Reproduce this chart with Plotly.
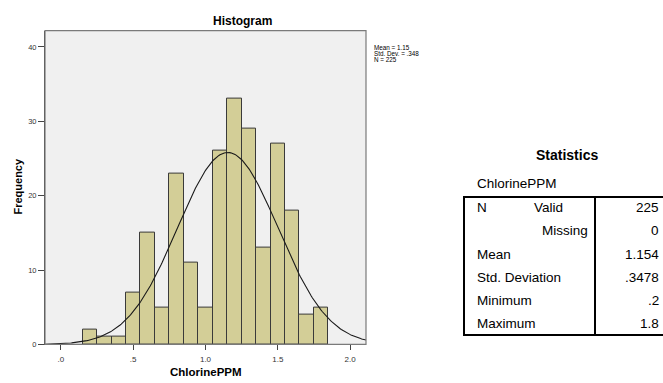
import numpy as np
import plotly.graph_objects as go

# ---- data ----
bin_centers = [0.2, 0.3, 0.4, 0.5, 0.6, 0.7, 0.8, 0.9, 1.0, 1.1, 1.2, 1.3, 1.4, 1.5, 1.6, 1.7, 1.8]
counts = [2, 1, 1, 7, 15, 5, 23, 11, 5, 26, 33, 29, 13, 27, 18, 4, 5]
bin_width = 0.1
mean_val = 1.154
std_val = 0.3478
n_val = 225

x_tick_vals = [0.0, 0.5, 1.0, 1.5, 2.0]
x_tick_text = [".0", ".5", "1.0", "1.5", "2.0"]
y_tick_vals = [0, 10, 20, 30, 40]
y_tick_text = ["0", "10", "20", "30", "40"]

stats_box_lines = ["Mean = 1.15", "Std. Dev. = .348", "N = 225"]

table_title = "Statistics"
table_var = "ChlorinePPM"
table_labels = ["N", "", "Mean", "Std. Deviation", "Minimum", "Maximum"]
table_sublabels = ["Valid", "Missing", "", "", "", ""]
table_values = ["225", "0", "1.154", ".3478", ".2", "1.8"]

# ---- layout helpers ----
W, H = 663, 383
def px(x):
    return x / W
def py(y):
    return 1 - y / H

FONT = "Liberation Sans, Arial, sans-serif"

# normal curve from the reported statistics
xc = np.linspace(-0.11, 2.11, 300)
yc = n_val * bin_width / (std_val * np.sqrt(2 * np.pi)) * np.exp(-0.5 * ((xc - mean_val) / std_val) ** 2)

fig = go.Figure()
fig.add_trace(go.Bar(
    x=bin_centers, y=counts, width=bin_width,
    marker=dict(color="#D3CE97", line=dict(color="#3A3A3A", width=1)),
    hoverinfo="skip", showlegend=False,
))
fig.add_trace(go.Scatter(
    x=xc, y=yc, mode="lines", line=dict(color="#1a1a1a", width=1.1),
    hoverinfo="skip", showlegend=False,
))

x0, x1 = 45, 366
y0, y1 = 31, 349

fig.update_layout(
    width=W, height=H,
    margin=dict(l=0, r=0, t=0, b=0),
    paper_bgcolor="white",
    plot_bgcolor="#F0F0F0",
    font=dict(family=FONT, color="#222"),
    bargap=0,
    xaxis=dict(
        domain=[px(x0), px(x1)], range=[-0.11, 2.11],
        tickvals=x_tick_vals, ticktext=x_tick_text,
        ticks="outside", ticklen=5, tickcolor="#444", tickwidth=1,
        ticklabelstandoff=2,
        tickfont=dict(size=8, color="#333", family=FONT),
        showgrid=False, zeroline=False,
        showline=True, linecolor="#404040", linewidth=1,
    ),
    yaxis=dict(
        domain=[py(y1), py(y0)], range=[0, 42.2],
        tickvals=y_tick_vals, ticktext=y_tick_text,
        ticks="outside", ticklen=6, tickcolor="#444", tickwidth=1,
        tickfont=dict(size=7.5, color="#333", family=FONT),
        showgrid=False, zeroline=False,
        showline=True, linecolor="#404040", linewidth=1,
    ),
)

shapes = []
# plot frame (top / right lighter)
shapes.append(dict(type="rect", xref="paper", yref="paper",
                   x0=px(x0), x1=px(x1), y0=py(y1), y1=py(y0),
                   line=dict(color="#7a7a7a", width=1.2), layer="above"))

# table frame
tl, tr, tt, tb, tdiv = 464, 668, 199.5, 339.5, 595
shapes.append(dict(type="rect", xref="paper", yref="paper",
                   x0=px(tl), x1=px(tr), y0=py(tb), y1=py(tt),
                   line=dict(color="black", width=2)))
shapes.append(dict(type="line", xref="paper", yref="paper",
                   x0=px(tdiv), x1=px(tdiv), y0=py(tb), y1=py(tt),
                   line=dict(color="black", width=2)))
fig.update_layout(shapes=shapes)

ann = []
ann.append(dict(text="<b>Histogram</b>", x=px(243), y=py(21), xref="paper", yref="paper",
                showarrow=False, xanchor="center", yanchor="middle",
                font=dict(size=12, family=FONT, color="black")))
ann.append(dict(text="<b>ChlorinePPM</b>", x=px(206), y=py(377), xref="paper", yref="paper",
                showarrow=False, xanchor="center", yanchor="middle",
                font=dict(size=11.5, family=FONT, color="black")))
ann.append(dict(text="<b>Frequency</b>", x=px(18), y=py(189), xref="paper", yref="paper",
                showarrow=False, xanchor="center", yanchor="middle", textangle=-90,
                font=dict(size=11, family=FONT, color="black")))
for i, line in enumerate(stats_box_lines):
    ann.append(dict(text=line, x=px(371.5), y=py(48 + 5.9 * i), xref="paper", yref="paper",
                    showarrow=False, xanchor="left", yanchor="middle",
                    font=dict(size=6.3, family=FONT, color="black")))

# table texts
ann.append(dict(text="<b>%s</b>" % table_title, x=px(566.5), y=py(157), xref="paper", yref="paper",
                showarrow=False, xanchor="center", yanchor="middle",
                font=dict(size=14, family=FONT, color="black")))
ann.append(dict(text=table_var, x=px(475), y=py(185.5), xref="paper", yref="paper",
                showarrow=False, xanchor="left", yanchor="middle",
                font=dict(size=13.5, family=FONT, color="black")))
row_y = [210.5, 234, 257.5, 281, 304.5, 328]
sub_x = [532, 540]
for i in range(len(table_labels)):
    if table_labels[i]:
        ann.append(dict(text=table_labels[i], x=px(475), y=py(row_y[i]), xref="paper", yref="paper",
                        showarrow=False, xanchor="left", yanchor="middle",
                        font=dict(size=13.5, family=FONT, color="black")))
    if table_sublabels[i]:
        ann.append(dict(text=table_sublabels[i], x=px(sub_x[i]), y=py(row_y[i]), xref="paper", yref="paper",
                        showarrow=False, xanchor="left", yanchor="middle",
                        font=dict(size=13.5, family=FONT, color="black")))
    ann.append(dict(text=table_values[i], x=px(661), y=py(row_y[i]), xref="paper", yref="paper",
                    showarrow=False, xanchor="right", yanchor="middle",
                    font=dict(size=13.5, family=FONT, color="black")))
fig.update_layout(annotations=ann)

fig.write_html("out.html",
               config={"displayModeBar": False},
               post_script="document.body.style.margin='0';document.body.style.overflow='hidden';")
